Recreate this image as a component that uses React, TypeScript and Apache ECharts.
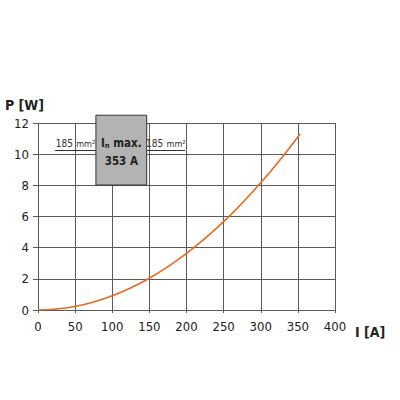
import React, { useEffect, useRef } from "react";
import * as echarts from "echarts";

const currentA = [0, 25, 50, 75, 100, 125, 150, 175, 200, 225, 250, 275, 300, 325, 353];
const powerW = [0, 0.06, 0.23, 0.51, 0.91, 1.42, 2.04, 2.78, 3.63, 4.6, 5.67, 6.86, 8.16, 9.58, 11.3];
const xTicks = [0, 50, 100, 150, 200, 250, 300, 350, 400];
const yTicks = [0, 2, 4, 6, 8, 10, 12];
// box: [xStart, xEnd, yBottom, yTop]
const ratedBox = [78, 146.4, 8.02, 12.5];
const ratedText = ["I", "n", " max.", "353 A"];
const crossSection = ["185", "mm²"];
// underline: [xStart, xEnd, yLevel]
const underlines = [
  [23, 78, 10.27],
  [146.4, 198, 10.27],
];

const FONT = "'DejaVu Sans Condensed', 'Liberation Sans Narrow', sans-serif";

export default function App() {
  const ref = useRef<HTMLDivElement>(null);
  useEffect(() => {
    const chart = echarts.init(ref.current!, null, { renderer: "svg" });
    const gridColor = "#5a5a5a";
    chart.setOption({
      animation: false,
      textStyle: { fontFamily: FONT },
      grid: { left: 38, right: 65, top: 123, bottom: 90, containLabel: false, outerBoundsMode: "none" },
      xAxis: {
        type: "value",
        min: xTicks[0],
        max: xTicks[xTicks.length - 1],
        interval: 50,
        name: "I [A]",
        nameLocation: "end",
        nameGap: 20,
        nameTextStyle: { fontFamily: FONT, fontSize: 14, fontWeight: "bold", color: "#222", verticalAlign: "top", padding: [15, 0, 0, 0] },
        axisLine: { show: true, lineStyle: { color: gridColor, width: 1 } },
        axisTick: { show: true, length: 3, lineStyle: { color: gridColor } },
        axisLabel: { fontFamily: FONT, fontSize: 13, color: "#222", margin: 10 },
        splitLine: { show: true, lineStyle: { color: gridColor, width: 1 } },
      },
      yAxis: {
        type: "value",
        min: yTicks[0],
        max: yTicks[yTicks.length - 1],
        interval: 2,
        name: "P [W]",
        nameLocation: "end",
        nameGap: 11,
        nameTextStyle: { fontFamily: FONT, fontSize: 14, fontWeight: "bold", color: "#222", align: "left", padding: [0, 0, 0, -33] },
        axisLine: { show: false },
        axisTick: { show: true, length: 5, lineStyle: { color: gridColor } },
        axisLabel: { fontFamily: FONT, fontSize: 13, color: "#222", margin: 9 },
        splitLine: { show: true, lineStyle: { color: gridColor, width: 1 } },
      },
      series: [
        {
          type: "line",
          data: currentA.map((x, i) => [x, powerW[i]]),
          smooth: true,
          showSymbol: false,
          lineStyle: { color: "#e8691e", width: 1.6 },
          z: 3,
        },
        {
          type: "custom",
          clip: false,
          silent: true,
          z: 4,
          data: [ratedBox],
          renderItem: (params: any, api: any) => {
            const p0 = api.coord([api.value(0), api.value(3)]);
            const p1 = api.coord([api.value(1), api.value(2)]);
            const cx = (p0[0] + p1[0]) / 2;
            const cy = (p0[1] + p1[1]) / 2;
            return {
              type: "group",
              children: [
                {
                  type: "rect",
                  shape: { x: p0[0], y: p0[1], width: p1[0] - p0[0], height: p1[1] - p0[1] },
                  style: { fill: "#b3b3b3", stroke: "#333", lineWidth: 1 },
                },
                {
                  type: "text",
                  x: cx,
                  y: cy + 1.5,
                  style: {
                    text: `{b|${ratedText[0]}}{s|${ratedText[1]}}{b|${ratedText[2]}}\n{b|${ratedText[3]}}`,
                    align: "center",
                    verticalAlign: "middle",
                    rich: {
                      b: { fontFamily: FONT, fontSize: 11.5, fontWeight: "bold", fill: "#222", lineHeight: 18 },
                      s: { fontFamily: FONT, fontSize: 7.5, fontWeight: "bold", fill: "#222", lineHeight: 18, padding: [6, 0, 0, 0] },
                    },
                  },
                },
              ],
            };
          },
        },
        {
          type: "custom",
          clip: false,
          silent: true,
          z: 4,
          data: underlines,
          renderItem: (params: any, api: any) => {
            const a = api.coord([api.value(0), api.value(2)]);
            const b = api.coord([api.value(1), api.value(2)]);
            const y = Math.round(a[1]) + 0.5;
            return {
              type: "group",
              children: [
                {
                  type: "line",
                  shape: { x1: a[0], y1: y, x2: b[0], y2: y },
                  style: { stroke: "#333", lineWidth: 1 },
                },
                {
                  type: "text",
                  x: (a[0] + b[0]) / 2,
                  y: y - 1,
                  style: {
                    text: `{n|${crossSection[0]}} {u|${crossSection[1]}}`,
                    align: "center",
                    verticalAlign: "bottom",
                    rich: {
                      n: { fontFamily: FONT, fontSize: 10, fill: "#333" },
                      u: { fontFamily: FONT, fontSize: 9, fill: "#333" },
                    },
                  },
                },
              ],
            };
          },
        },
      ],
    });
    return () => chart.dispose();
  }, []);
  return <div ref={ref} style={{ position: "absolute", left: 0, top: 0, width: 400, height: 400 }} />;
}
